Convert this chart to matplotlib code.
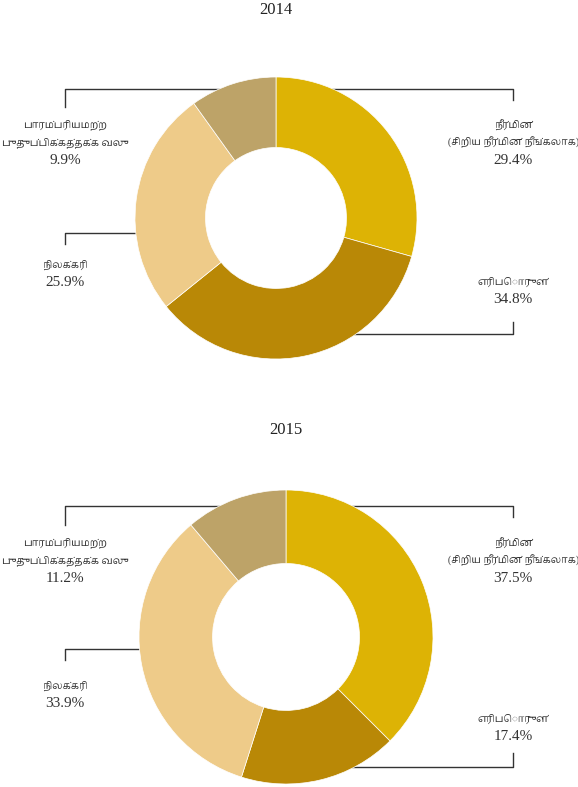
import matplotlib.pyplot as plt

# data
years = ['2014', '2015']
sources = ['நீர்மின்\n(சிறிய நீர்மின் நீங்கலாக)', 'எரிபொருள்', 'நிலக்கரி',
           'பாரம்பரியமற்ற\nபுதுப்பிக்கத்தக்க வலு']
share_2014 = [29.4, 34.8, 25.9, 9.9]
share_2015 = [37.5, 17.4, 33.9, 11.2]
colors = ['#DDB305', '#B98806', '#EECB89', '#BDA368']

plt.rcParams['font.family'] = ['Liberation Serif', 'Noto Serif Tamil', 'Noto Sans Tamil',
                               'Lohit Tamil', 'FreeSerif', 'DejaVu Sans']

W, H = 578, 787
fig = plt.figure(figsize=(W / 100, H / 100), dpi=100)
ax = fig.add_axes([0, 0, 1, 1])
ax.set_xlim(0, W)
ax.set_ylim(H, 0)
ax.set_aspect('equal')
ax.axis('off')

# layout per year: centre, radius, title y, leader lines, label anchors (pixels)
layouts = {
    '2014': dict(center=(276, 218), r=141, title_y=10,
                 lines=[[(513, 100), (513, 89), (300, 89)],
                        [(513, 322), (513, 334), (340, 334)],
                        [(65, 244), (65, 233), (150, 233)],
                        [(65, 107), (65, 89), (230, 89)]],
                 text=[(513, 125), (513, 282), (65, 265), (65, 125)]),
    '2015': dict(center=(286, 637), r=147, title_y=430,
                 lines=[[(513, 517), (513, 506), (310, 506)],
                        [(513, 753), (513, 767), (330, 767)],
                        [(65, 660), (65, 649), (160, 649)],
                        [(65, 525), (65, 506), (240, 506)]],
                 text=[(513, 543), (513, 719), (65, 686), (65, 543)]),
}
pitch = 17.5

for year, shares in zip(years, [share_2014, share_2015]):
    lay = layouts[year]
    cx, cy = lay['center']
    for pts in lay['lines']:
        xs = [p[0] for p in pts]
        ys = [p[1] for p in pts]
        ax.plot(xs, ys, color='#333333', lw=1.0, zorder=1)
    # y axis is inverted, so counterclock=True draws clockwise on screen
    wedges, _ = ax.pie(shares, colors=colors, center=(cx, cy), radius=lay['r'],
                       startangle=-90, counterclock=True,
                       wedgeprops=dict(width=lay['r'] * 0.5, edgecolor='white', linewidth=0.5))
    for w in wedges:
        w.set_zorder(2)
    ax.text(cx, lay['title_y'], year, ha='center', va='center', fontsize=12, color='#222222')
    for name, val, (tx, ty) in zip(sources, shares, lay['text']):
        rows = name.split('\n')
        for i, row in enumerate(rows):
            ax.text(tx, ty + pitch * i, row, ha='center', va='center',
                    fontsize=7, color='#333333')
        ax.text(tx, ty + pitch * len(rows), f'{val}%', ha='center', va='center',
                fontsize=11, color='#333333')

ax.set_xlim(0, W)
ax.set_ylim(H, 0)
fig.savefig('out.png', dpi=100)
